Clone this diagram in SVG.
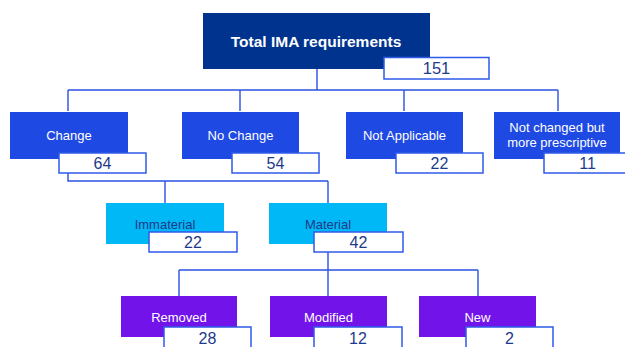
<svg xmlns="http://www.w3.org/2000/svg" width="625" height="347" viewBox="0 0 625 347">
  <style>
    .conn { fill: none; stroke: #2A52E4; stroke-width: 1.4; }
    .navy { fill: #00338D; }
    .cobalt { fill: #1E49E2; }
    .light { fill: #00B8F5; }
    .purple { fill: #7213EA; }
    .num { fill: #FFFFFF; stroke: #2F5BE8; stroke-width: 1.5; }
    .lbl { font-family: "Liberation Sans", Arial, sans-serif; font-size: 13px; text-anchor: middle; fill: #FFFFFF; }
    .lbl-dark { font-family: "Liberation Sans", Arial, sans-serif; font-size: 13px; text-anchor: middle; fill: #1E3A8A; }
    .title { font-family: "Liberation Sans", Arial, sans-serif; font-size: 15.5px; font-weight: bold; text-anchor: middle; fill: #FFFFFF; }
    .val { font-family: "Liberation Sans", Arial, sans-serif; font-size: 16px; text-anchor: middle; fill: #1E3A8A; }
  </style>

  <!-- connectors -->
  <g id="connectors">
    <path class="conn" d="M317 69 V90 M68 90 H558 M68 90 V111 M240 90 V111 M404 90 V111 M558 90 V111"/>
    <path class="conn" d="M68 173 V181 H328 M165 181 V203 M328 181 V203"/>
    <path class="conn" d="M328 252 V270 M179 270 H478 M179 270 V296 M328 270 V296 M478 270 V296"/>
  </g>

  <!-- root -->
  <g id="total">
    <rect class="navy" x="203" y="13" width="227" height="56"/>
    <text class="title" x="316" y="46.5">Total IMA requirements</text>
    <rect class="num" x="384" y="57.5" width="105" height="21.5"/>
    <text class="val" x="436.5" y="74.3" style="font-size:16.5px">151</text>
  </g>

  <!-- first level -->
  <g id="change">
    <rect class="cobalt" x="10" y="112" width="118" height="47"/>
    <text class="lbl" x="69" y="140">Change</text>
    <rect class="num" x="59" y="153" width="87" height="20"/>
    <text class="val" x="102.5" y="169">64</text>
  </g>
  <g id="no-change">
    <rect class="cobalt" x="182" y="112" width="117" height="47"/>
    <text class="lbl" x="240.5" y="140">No Change</text>
    <rect class="num" x="232" y="153" width="87" height="20"/>
    <text class="val" x="275.5" y="169">54</text>
  </g>
  <g id="not-applicable">
    <rect class="cobalt" x="346" y="112" width="117" height="47"/>
    <text class="lbl" x="404.5" y="140">Not Applicable</text>
    <rect class="num" x="396" y="153" width="87" height="20"/>
    <text class="val" x="439.5" y="169">22</text>
  </g>
  <g id="more-prescriptive">
    <rect class="cobalt" x="494" y="112" width="126" height="47"/>
    <text class="lbl" x="557" y="132">Not changed but</text>
    <text class="lbl" x="557" y="146.5">more prescriptive</text>
    <rect class="num" x="544" y="153" width="87" height="20"/>
    <text class="val" x="587.5" y="169">11</text>
  </g>

  <!-- second level -->
  <g id="immaterial">
    <rect class="light" x="106" y="203" width="118" height="41"/>
    <text class="lbl-dark" x="165" y="229">Immaterial</text>
    <rect class="num" x="149" y="232" width="88" height="20"/>
    <text class="val" x="193" y="247.5">22</text>
  </g>
  <g id="material">
    <rect class="light" x="269" y="203" width="118" height="41"/>
    <text class="lbl-dark" x="328" y="229">Material</text>
    <rect class="num" x="314" y="232" width="89" height="20"/>
    <text class="val" x="358.5" y="247.5">42</text>
  </g>

  <!-- third level -->
  <g id="removed">
    <rect class="purple" x="121" y="296" width="116" height="41"/>
    <text class="lbl" x="179" y="322">Removed</text>
    <rect class="num" x="164" y="327" width="87" height="26"/>
    <text class="val" x="207.5" y="344">28</text>
  </g>
  <g id="modified">
    <rect class="purple" x="270" y="296" width="117" height="41"/>
    <text class="lbl" x="328.5" y="322">Modified</text>
    <rect class="num" x="314" y="327" width="88" height="26"/>
    <text class="val" x="358" y="344">12</text>
  </g>
  <g id="new">
    <rect class="purple" x="419" y="296" width="117" height="41"/>
    <text class="lbl" x="477.5" y="322">New</text>
    <rect class="num" x="466" y="327" width="87" height="26"/>
    <text class="val" x="509.5" y="344">2</text>
  </g>
</svg>
